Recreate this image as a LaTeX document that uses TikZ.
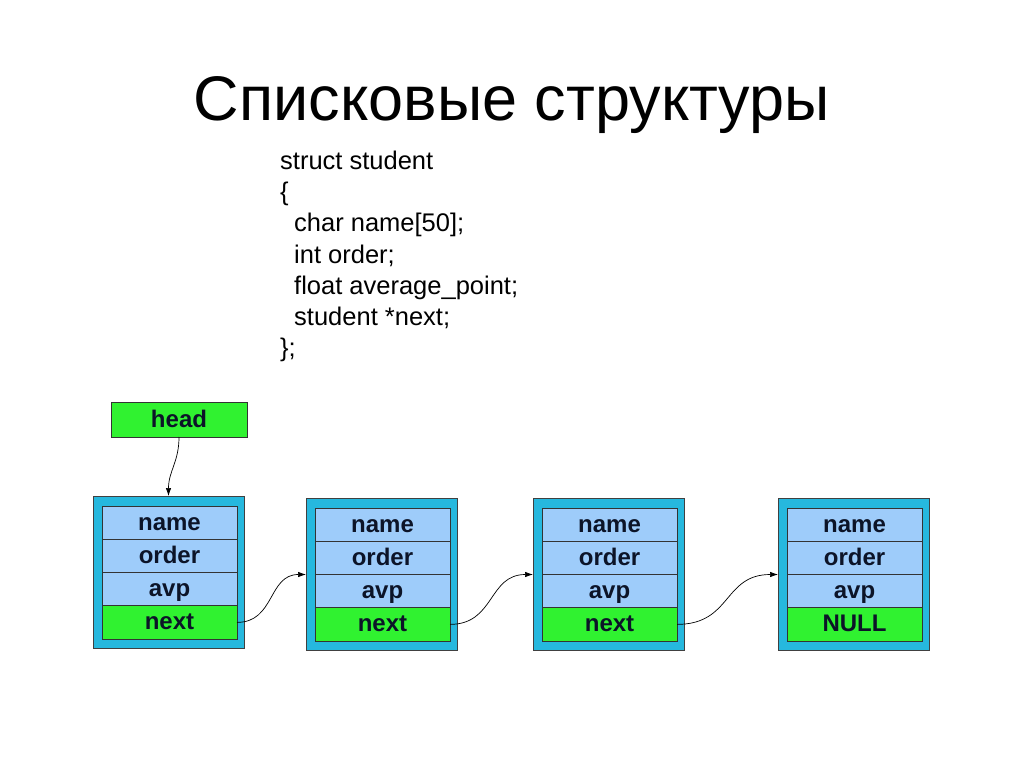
\documentclass[tikz,border=0pt]{standalone}
\usepackage{fontspec}
\setmainfont{Liberation Sans}
\usetikzlibrary{arrows.meta}
\definecolor{cyanbox}{RGB}{38,184,222}
\definecolor{cellblue}{RGB}{158,204,250}
\definecolor{cellgreen}{RGB}{48,242,48}
\definecolor{celltext}{RGB}{12,20,40}
\begin{document}
\begin{tikzpicture}[x=1pt,y=-1pt,
 outerbox/.style={draw=black!75, fill=cyanbox, line width=0.8pt, minimum width=151pt, minimum height=152pt, inner sep=0pt, outer sep=0pt, anchor=north west},
 cell/.style={draw=black!80, fill=cellblue, line width=0.7pt, minimum width=135pt, minimum height=33.25pt, inner sep=0pt, outer sep=0pt, anchor=north west, text height=17pt, text depth=2pt, font=\fontsize{24}{24}\selectfont\bfseries, text=celltext},
 nextcell/.style={cell, fill=cellgreen},
 link/.style={-{Latex[length=8pt,width=5.5pt]}, line width=0.7pt},
 codeline/.style={anchor=base west, inner sep=0pt, font=\fontsize{25.5}{25.5}\selectfont}
]
\fill[white] (0,0) rectangle (1024,767);
\useasboundingbox (0,0) rectangle (1024,767);
\node[anchor=base, inner sep=0pt, font=\fontsize{63}{63}\selectfont] (title) at (512,121) {Списковые структуры};
\node[codeline] (c1) at (280,170) {struct student};
\node[codeline] (c2) at (280,201) {\{};
\node[codeline] (c3) at (294,232) {char name[50];};
\node[codeline] (c4) at (294,263) {int order;};
\node[codeline] (c5) at (294,294) {float average\_point;};
\node[codeline] (c6) at (294,325) {student *next;};
\node[codeline] (c7) at (280,356) {\};};
\node[nextcell, minimum width=136pt, minimum height=35pt] (head) at (111,402) {head};
\foreach \i/\L/\T/\last in {1/93/496/next, 2/306/498/next, 3/533/498/next, 4/778/498/NULL}{
  \node[outerbox] (o\i) at (\L,\T) {};
  \node[cell] (n\i) at ({\L+9},{\T+10}) {name};
  \node[cell] (r\i) at ({\L+9},{\T+43.25}) {order};
  \node[cell] (a\i) at ({\L+9},{\T+76.5}) {avp};
  \node[nextcell] (x\i) at ({\L+9},{\T+109.75}) {\last};
}
\draw[link] (head.south) .. controls +(0,25) and +(0,-25) .. (o1.north);
\draw[link] (x1.east) .. controls +(38,0) and +(-38,0) .. (o2.west |- a2.north west);
\draw[link] (x2.east) .. controls +(45,0) and +(-45,0) .. (o3.west |- a3.north west);
\draw[link] (x3.east) .. controls +(55,0) and +(-55,0) .. (o4.west |- a4.north west);
\end{tikzpicture}
\end{document}
